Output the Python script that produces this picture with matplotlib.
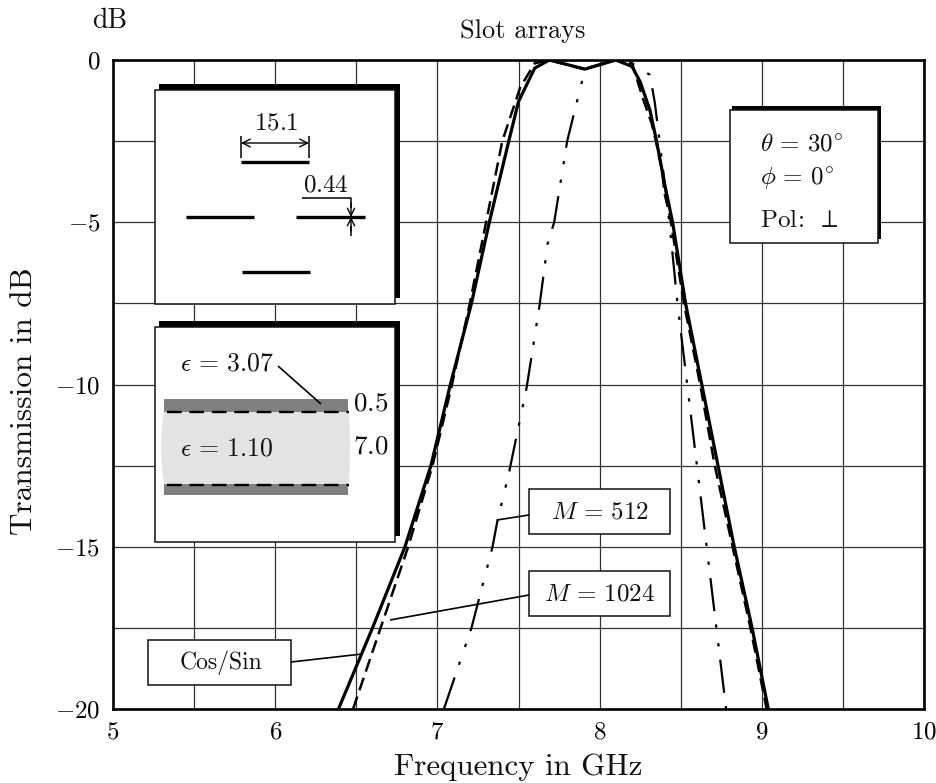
import matplotlib
matplotlib.use("Agg")
import matplotlib.pyplot as plt
from matplotlib.patches import Rectangle, PathPatch
from matplotlib.path import Path

plt.rcParams['font.family'] = ['cmr10', 'DejaVu Serif']
plt.rcParams['mathtext.fontset'] = 'cm'
plt.rcParams['axes.formatter.use_mathtext'] = True

# curves (GHz, dB)
cos_freq = [6.39, 6.60, 6.80, 6.96, 7.08, 7.21, 7.32, 7.44, 7.50, 7.60, 7.69, 7.91, 8.10, 8.20, 8.25, 8.31,
            8.35, 8.40, 8.45, 8.53, 8.63, 8.73, 8.83, 8.94, 9.04]
cos_db = [-20, -17.5, -15, -12.5, -10, -7.5, -5, -2.5, -1.28, -0.25, 0, -0.28, 0, -0.2, -0.67, -1.54,
          -2.47, -3.8, -5, -7.5, -10, -12.5, -15, -17.5, -20]

m1024_freq = [6.48, 6.65, 6.82, 6.97, 7.09, 7.20, 7.30, 7.40, 7.51, 7.60, 7.69, 7.90, 8.10, 8.20, 8.27,
              8.32, 8.35, 8.385, 8.40, 8.435, 8.52, 8.62, 8.71, 8.82, 8.93, 9.03]
m1024_db = [-20, -17.5, -15, -12.5, -10, -7.5, -5, -2.5, -0.85, -0.1, 0, -0.28, 0, -0.1, -1.23,
            -1.94, -2.56, -3.4, -4.1, -4.85, -7.5, -10, -12.5, -15, -17.5, -20]

m512_freq = [7.04, 7.21, 7.34, 7.37, 7.44, 7.55, 7.63, 7.68, 7.72, 7.80, 7.91, 8.10, 8.20, 8.31, 8.34, 8.37,
             8.43, 8.48, 8.54, 8.60, 8.66, 8.72, 8.78]
m512_db = [-20, -17.5, -15, -14.2, -12.75, -10.1, -7.55, -5.65, -5, -2.5, -0.28, 0, -0.1, -0.46, -1.3, -2.5,
           -5, -7.5, -10, -12.5, -15, -17.5, -20]

x_ticks = [5, 6, 7, 8, 9, 10]
y_ticks = [0, -5, -10, -15, -20]

W, H = 936, 783
fig = plt.figure(figsize=(W / 100, H / 100), dpi=100)
ax = fig.add_axes([113 / W, 1 - 709 / H, (924 - 113) / W, (709 - 60) / H])

ax.plot(cos_freq, cos_db, color='black', lw=2.3, solid_joinstyle='miter')
ax.plot(m1024_freq, m1024_db, color='black', lw=1.8, linestyle=(0, (5.3, 2.6)))
ax.plot(m512_freq, m512_db, color='black', lw=1.6, linestyle=(0, (15, 6, 1.5, 7, 1.5, 6)))

ax.set_xlim(5, 10)
ax.set_ylim(-20, 0)
ax.set_xticks([5 + 0.5 * i for i in range(11)])
ax.set_yticks([-2.5 * i for i in range(9)])
ax.set_xticklabels(['$%d$' % v if v in x_ticks else '' for v in ax.get_xticks()], fontsize=18)
ax.set_yticklabels(['$%d$' % v if v in y_ticks else '' for v in ax.get_yticks()], fontsize=18)
ax.tick_params(length=0, pad=9)
ax.grid(True, color='#333333', lw=0.9)
ax.set_axisbelow(True)
for s in ax.spines.values():
    s.set_linewidth(1.9)

# overlay in pixel units for the callouts and insets
ov = fig.add_axes([0, 0, 1, 1])
ov.set_xlim(0, W)
ov.set_ylim(H, 0)
ov.axis('off')
ov.patch.set_alpha(0)


def box(x0, y0, x1, y1, sx=0, sy=0, inset=4, z=3):
    if sx:
        ov.add_patch(Rectangle((x0 + inset, y0 - sy), x1 - x0 + sx - inset, y1 - y0, fc='black', ec='none', zorder=z))
    ov.add_patch(Rectangle((x0, y0), x1 - x0, y1 - y0, fc='white', ec='#111111', lw=1.1, zorder=z + 0.1))


def txt(x, y, s, size=16, ha='center'):
    ov.text(x, y, s, fontsize=size, ha=ha, va='center', zorder=6, color='#111111')


def seg(xs, ys, lw=1.1, **kw):
    ov.plot(xs, ys, color='black', lw=lw, zorder=5, solid_capstyle='butt', **kw)


# slot pattern inset
box(155, 90, 395, 304, sx=5, sy=6)
seg([241, 309], [162, 162], lw=2.4)
seg([186, 254], [217, 217], lw=2.4)
seg([296, 365], [217, 217], lw=2.4)
seg([242, 310], [271.5, 271.5], lw=2.4)
seg([241, 241], [136, 158])
seg([309, 309], [136, 158])
ov.annotate('', xy=(241, 143), xytext=(309, 143), zorder=5,
            arrowprops=dict(arrowstyle='<->', color='black', lw=1.0, mutation_scale=14, shrinkA=0, shrinkB=0))
txt(276, 123, '$15.1$', 18)
txt(326, 185, '$0.44$', 18)
seg([302, 351, 351], [198, 198, 208])
seg([351, 351], [226, 236])
ov.annotate('', xy=(351, 217), xytext=(351, 203), zorder=5,
            arrowprops=dict(arrowstyle='->', color='black', lw=1.0, mutation_scale=13, shrinkA=0, shrinkB=0))
ov.annotate('', xy=(351, 217), xytext=(351, 231), zorder=5,
            arrowprops=dict(arrowstyle='->', color='black', lw=1.0, mutation_scale=13, shrinkA=0, shrinkB=0))

# layer stack inset
box(155, 327, 395, 542, sx=5, sy=6)
core = Path([(164, 411), (349, 411), (351, 447), (349, 484), (164, 484), (158, 447), (164, 411)],
            [Path.MOVETO, Path.LINETO, Path.CURVE3, Path.CURVE3, Path.LINETO, Path.CURVE3, Path.CURVE3])
ov.add_patch(PathPatch(core, fc='#e3e3e3', ec='none', zorder=3.5))
ov.add_patch(Rectangle((164, 399), 184, 12.5, fc='#808080', ec='none', zorder=3.6))
ov.add_patch(Rectangle((164, 484), 184, 11, fc='#808080', ec='none', zorder=3.6))
seg([167, 349], [411.5, 411.5], lw=1.7, linestyle=(0, (6.2, 3.3)))
seg([167, 349], [484.5, 484.5], lw=1.7, linestyle=(0, (6.2, 3.3)))
txt(180, 364, r'$\epsilon\,=\,3.07$', 18.5, ha='left')
txt(180, 449, r'$\epsilon\,=\,1.10$', 18.5, ha='left')
txt(371, 404, '$0.5$', 19.5)
txt(371, 447, '$7.0$', 19.5)
seg([278, 321], [366, 404], lw=1.2)

# incidence inset
box(730, 110, 878, 243, sx=3, sy=4, inset=2)
txt(760, 144, r'$\theta\,=\,30^{\circ}$', 18, ha='left')
txt(760, 179, r'$\phi\,=\,0^{\circ}$', 18, ha='left')
txt(760, 221, r'$\mathrm{Pol\!:}\ \perp$', 18, ha='left')

# curve labels
box(529, 489, 670, 534)
txt(600, 512, r'$M\,=\,512$', 18)
seg([497, 529], [520, 515], lw=1.2)
box(529, 571, 670, 616)
txt(600, 594, r'$M\,=\,1024$', 18)
seg([390, 529], [620, 595], lw=1.2)
box(148, 640, 291, 685)
txt(221, 663, 'Cos/Sin', 17)
seg([291, 362], [662, 654], lw=1.2)

# outer labels
txt(523, 31, 'Slot arrays', 19)
txt(110, 21, 'dB', 20)
txt(518, 767, 'Frequency in GHz', 22.3)
ov.text(24, 401, 'Transmission in dB', fontsize=22.5, rotation=90, ha='center', va='center', color='#111111')

fig.savefig('out.png', dpi=100)
